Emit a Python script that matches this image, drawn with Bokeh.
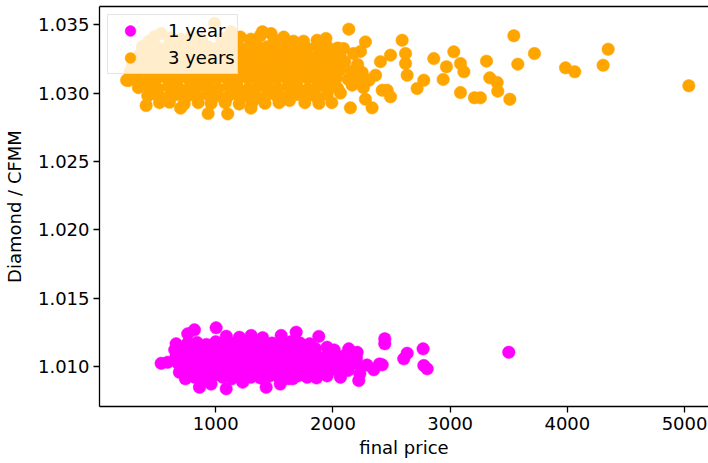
from bokeh.plotting import figure
from bokeh.models import Range1d, FixedTicker, LinearAxis, Legend, LegendItem, PrintfTickFormatter
from bokeh.embed import file_html
from bokeh.resources import INLINE

# ---- data ----
year1_price = [
    761, 818, 1003, 1090, 1202, 1302, 1400, 1558, 1686, 1879,
    662, 760, 840, 920, 1000, 1089, 1160, 1240, 1320, 1400, 1480, 1560, 1640, 1720, 1800, 2442, 2442,
    650, 730, 810, 890, 970, 1050, 1130, 1210, 1290, 1370, 1450, 1530, 1610, 1690, 1770, 1850, 1950, 2010, 2135, 2206, 2769,
    660, 740, 820, 900, 980, 1060, 1140, 1220, 1300, 1380, 1460, 1540, 1620, 1700, 1780, 1860, 1940, 2020, 2100, 2200, 2633, 2604, 3500,
    534, 590, 680, 760, 840, 920, 1000, 1080, 1160, 1240, 1320, 1400, 1480, 1560, 1640, 1720, 1800, 1880, 1960, 2040, 2120, 2200, 2290, 2397, 2420, 2775, 2804,
    690, 770, 850, 930, 1010, 1090, 1170, 1250, 1330, 1410, 1490, 1570, 1650, 1730, 1810, 1890, 1970, 2050, 2130, 2229, 2348,
    741, 820, 900, 980, 1060, 1140, 1220, 1300, 1380, 1460, 1540, 1620, 1700, 1780, 1860, 1950, 2064, 2220,
    861, 960, 1089, 1230, 1430, 1550, 1657,
]
year1_ratio = [
    1.01238, 1.01267, 1.01282, 1.0122, 1.01213, 1.01226, 1.0121, 1.01226, 1.0125, 1.01219,
    1.01165, 1.0117, 1.01175, 1.0116, 1.0118, 1.0119, 1.0117, 1.01175, 1.0116, 1.0118, 1.0117, 1.01165, 1.0118, 1.0117, 1.01165, 1.01202, 1.01165,
    1.0112, 1.01125, 1.0111, 1.0113, 1.0112, 1.01115, 1.0113, 1.0112, 1.0111, 1.0113, 1.0112, 1.01115, 1.0113, 1.0112, 1.0111, 1.0113, 1.0114, 1.0112, 1.01128, 1.01103, 1.01128,
    1.0107, 1.01075, 1.0106, 1.0108, 1.0107, 1.01065, 1.0108, 1.0107, 1.0106, 1.0108, 1.0107, 1.01065, 1.0108, 1.0107, 1.0106, 1.0108, 1.0107, 1.01065, 1.0108, 1.0106, 1.01096, 1.01055, 1.01103,
    1.01022, 1.0103, 1.0102, 1.01025, 1.0101, 1.0103, 1.0102, 1.01015, 1.0103, 1.0102, 1.0101, 1.0103, 1.0102, 1.01015, 1.0103, 1.0102, 1.0101, 1.0103, 1.0102, 1.01015, 1.0103, 1.0102, 1.0101, 1.01018, 1.01011, 1.01006, 1.00982,
    1.00957, 1.0097, 1.00965, 1.0098, 1.0097, 1.0096, 1.0098, 1.0097, 1.00965, 1.0098, 1.0097, 1.0096, 1.0098, 1.0097, 1.00965, 1.0098, 1.0097, 1.0096, 1.0097, 1.00945, 1.00975,
    1.00909, 1.0092, 1.00915, 1.0093, 1.0092, 1.0091, 1.0093, 1.0092, 1.00915, 1.0093, 1.0092, 1.0091, 1.0093, 1.0092, 1.00915, 1.0093, 1.0092, 1.00896,
    1.00847, 1.0087, 1.00836, 1.00884, 1.00847, 1.0087, 1.00909,
]

years3_price = [
    240, 256, 289, 375, 430, 477, 534, 610, 990, 1131, 1145, 1398, 1472, 2135, 2277, 2590,
    620, 700, 790, 880, 1050, 1210, 1300, 1380, 1500, 1580, 1663, 1749, 1865, 1940,
    420, 500, 590, 680, 760, 850, 940, 1020, 1110, 1190, 1270, 1350, 1440, 1520, 1600, 1690, 1770, 1860, 1950, 2040, 2090, 2175, 2235,
    350, 440, 520, 610, 690, 780, 860, 950, 1030, 1120, 1200, 1280, 1370, 1450, 1540, 1620, 1710, 1790, 1880, 1960, 2060, 2491, 2619,
    300, 380, 470, 550, 640, 720, 810, 890, 980, 1060, 1150, 1230, 1320, 1400, 1490, 1570, 1660, 1740, 1830, 1910, 2000, 2100, 2210, 2405, 2619, 2860, 3031,
    270, 360, 440, 530, 610, 700, 780, 870, 950, 1040, 1120, 1210, 1290, 1380, 1460, 1550, 1630, 1720, 1800, 1890, 1970, 2060, 2160, 2250, 2363, 2968, 3088, 3117,
    250, 330, 420, 500, 590, 670, 760, 840, 930, 1010, 1100, 1180, 1270, 1350, 1440, 1520, 1610, 1690, 1780, 1860, 1950, 2030, 2130, 2200, 2306, 2633, 2775, 2940,
    340, 430, 510, 600, 680, 770, 850, 940, 1020, 1110, 1190, 1280, 1360, 1450, 1530, 1620, 1700, 1790, 1870, 1960, 2040, 2164, 2260, 2420, 2462, 2718,
    420, 500, 590, 670, 760, 840, 930, 1010, 1100, 1180, 1270, 1350, 1440, 1520, 1610, 1690, 1780, 1860, 1950, 2064, 2277, 2491, 3088, 3207, 3509, 3406,
    406, 520, 605, 730, 850, 960, 1080, 1200, 1310, 1420, 1540, 1629, 1760, 1880, 1990,
    700, 935, 1102, 1300, 2149, 2334,
    3543, 3577, 3719, 3310, 3338, 3401, 3984, 4063, 4348, 4305, 5036, 3258,
]
years3_ratio = [
    1.03094, 1.03092, 1.03204, 1.03341, 1.0338, 1.03412, 1.03436, 1.0340, 1.0351, 1.03449, 1.03424, 1.03449, 1.03436, 1.03468, 1.03375, 1.03387,
    1.03405, 1.03395, 1.0341, 1.0339, 1.03402, 1.0341, 1.03395, 1.0342, 1.0339, 1.0341, 1.0338, 1.0338, 1.03387, 1.0340,
    1.0335, 1.03335, 1.0334, 1.03345, 1.0333, 1.0335, 1.03338, 1.0333, 1.03345, 1.0334, 1.0333, 1.03348, 1.0334, 1.03328, 1.0335, 1.0334, 1.03332, 1.03345, 1.0334, 1.0333, 1.03327, 1.0329, 1.03305,
    1.0328, 1.03275, 1.0329, 1.0328, 1.03272, 1.0329, 1.0328, 1.03285, 1.0327, 1.0329, 1.0328, 1.03275, 1.0329, 1.0328, 1.0327, 1.0329, 1.0328, 1.03272, 1.0329, 1.0328, 1.0327, 1.03278, 1.0329,
    1.0322, 1.03225, 1.0321, 1.0323, 1.0322, 1.03215, 1.0323, 1.0322, 1.03212, 1.0323, 1.0322, 1.0321, 1.0323, 1.0322, 1.03215, 1.0323, 1.0322, 1.0321, 1.0323, 1.0322, 1.03215, 1.0323, 1.0321, 1.0323, 1.03217, 1.03253, 1.03302,
    1.0316, 1.03165, 1.0315, 1.0317, 1.0316, 1.03155, 1.0317, 1.0316, 1.03152, 1.0317, 1.0316, 1.0315, 1.0317, 1.0316, 1.03155, 1.0317, 1.0316, 1.0315, 1.0317, 1.0316, 1.03155, 1.0317, 1.0316, 1.0315, 1.03131, 1.03193, 1.03217, 1.03156,
    1.0310, 1.03105, 1.0309, 1.0311, 1.0310, 1.03095, 1.0311, 1.0310, 1.03092, 1.0311, 1.0310, 1.0309, 1.0311, 1.0310, 1.03095, 1.0311, 1.0310, 1.0309, 1.0311, 1.0310, 1.03095, 1.0311, 1.0310, 1.0309, 1.03094, 1.03131, 1.03094, 1.0310,
    1.0304, 1.03045, 1.0303, 1.0305, 1.0304, 1.03035, 1.0305, 1.0304, 1.03032, 1.0305, 1.0304, 1.0303, 1.0305, 1.0304, 1.03035, 1.0305, 1.0304, 1.0303, 1.0305, 1.0304, 1.03035, 1.03058, 1.0304, 1.03021, 1.03021, 1.03034,
    1.0298, 1.02985, 1.0297, 1.0299, 1.0298, 1.02975, 1.0299, 1.0298, 1.02972, 1.0299, 1.0298, 1.0297, 1.0299, 1.0298, 1.02975, 1.0299, 1.0298, 1.0297, 1.0299, 1.0300, 1.02955, 1.02973, 1.03004, 1.02966, 1.02955, 1.03014,
    1.02909, 1.0293, 1.02933, 1.0292, 1.0293, 1.02925, 1.0293, 1.0292, 1.0293, 1.02925, 1.0293, 1.02946, 1.0293, 1.02925, 1.0293,
    1.0289, 1.0285, 1.02848, 1.0289, 1.02892, 1.02892,
    1.0342, 1.03212, 1.0329, 1.03234, 1.03112, 1.03078, 1.03185, 1.03156, 1.03321, 1.03204, 1.03054, 1.02966,
]

x_ticks = [1000, 2000, 3000, 4000, 5000]
y_ticks = [1.010, 1.015, 1.020, 1.025, 1.030, 1.035]
series_labels = ["1 year", "3 years"]
series_colors = ["#ff00ff", "#ffa500"]

FONT = "DejaVu Sans"
FS = "18px"

p = figure(width=708, height=463, output_backend="svg", toolbar_location=None,
           x_range=Range1d(8, 5204), y_range=Range1d(1.00706, 1.03634),
           x_axis_label="final price", y_axis_label="Diamond / CFMM",
           min_border_left=99, min_border_right=0, min_border_top=6, min_border_bottom=57)
p.outline_line_color = None
p.grid.visible = False
p.background_fill_color = "white"
p.border_fill_color = "white"

r1 = p.scatter(year1_price, year1_ratio, size=12.5, color=series_colors[0], line_width=0.5)
r3 = p.scatter(years3_price, years3_ratio, size=12.5, color=series_colors[1], line_width=0.5)

p.xaxis.ticker = FixedTicker(ticks=x_ticks)
p.yaxis.ticker = FixedTicker(ticks=y_ticks)
p.yaxis.formatter = PrintfTickFormatter(format="%.3f")

for ax in [p.xaxis[0], p.yaxis[0]]:
    ax.axis_line_color = "black"
    ax.axis_line_width = 1.3
    ax.major_tick_line_color = "black"
    ax.major_tick_line_width = 1.3
    ax.major_tick_in = 0
    ax.major_tick_out = 6
    ax.minor_tick_line_color = None
    ax.major_label_text_font = FONT
    ax.major_label_text_font_size = FS
    ax.major_label_text_color = "black"
    ax.axis_label_text_font = FONT
    ax.axis_label_text_font_size = FS
    ax.axis_label_text_font_style = "normal"
    ax.axis_label_text_color = "black"
    ax.major_label_standoff = 4

p.xaxis.axis_label_standoff = 4
p.yaxis.axis_label_standoff = 10

top_axis = LinearAxis(ticker=FixedTicker(ticks=[]), axis_line_color="black", axis_line_width=1.3,
                      major_tick_line_color=None, minor_tick_line_color=None,
                      major_label_text_font_size="0px")
p.add_layout(top_axis, "above")

legend = Legend(items=[LegendItem(label=series_labels[0], renderers=[r1]),
                       LegendItem(label=series_labels[1], renderers=[r3])],
                location="top_left")
legend.border_line_color = "#cccccc"
legend.border_line_width = 1.2
legend.background_fill_color = "white"
legend.background_fill_alpha = 0.8
legend.padding = 2
legend.spacing = 0
legend.margin = 8
legend.glyph_width = 40
legend.glyph_height = 27
legend.label_height = 27
legend.label_standoff = 18
legend.label_text_font = FONT
legend.label_text_font_size = FS
legend.label_text_color = "black"
p.add_layout(legend)

open("out.html", "w").write(file_html(p, INLINE))
